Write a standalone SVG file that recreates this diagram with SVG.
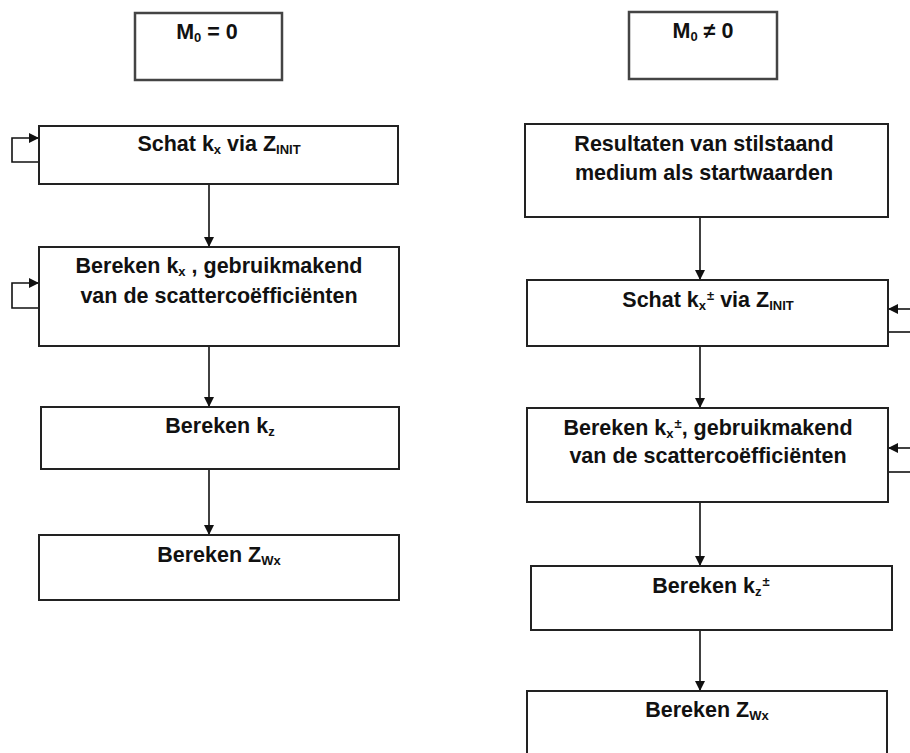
<svg xmlns="http://www.w3.org/2000/svg" width="910" height="753" viewBox="0 0 910 753">
<defs>
<marker id="ah" viewBox="0 0 10 10" refX="10" refY="5" markerWidth="10" markerHeight="10" markerUnits="userSpaceOnUse" orient="auto">
<path d="M0,0 L10,5 L0,10 z" fill="#111"/>
</marker>
<style>
.box{fill:#fff;stroke:#222;stroke-width:2}
.top{fill:#fff;stroke:#444;stroke-width:2.5}
.t{font-family:"Liberation Sans",Arial,sans-serif;font-weight:bold;font-size:21.5px;fill:#111;text-anchor:middle}
.s{font-size:13px}
.c{fill:none;stroke:#111;stroke-width:1.6}
</style>
</defs>
<rect width="910" height="753" fill="#fff"/>
<g id="connectors">
<line class="c" x1="209" y1="184" x2="209" y2="247" marker-end="url(#ah)"/>
<line class="c" x1="209" y1="346" x2="209" y2="407" marker-end="url(#ah)"/>
<line class="c" x1="209" y1="469" x2="209" y2="535" marker-end="url(#ah)"/>
<polyline class="c" points="39,162 12,162 12,138 39,138" marker-end="url(#ah)"/>
<polyline class="c" points="39,308 12,308 12,283 39,283" marker-end="url(#ah)"/>
<line class="c" x1="700" y1="217" x2="700" y2="280" marker-end="url(#ah)"/>
<line class="c" x1="700" y1="346" x2="700" y2="408" marker-end="url(#ah)"/>
<line class="c" x1="700" y1="502" x2="700" y2="566" marker-end="url(#ah)"/>
<line class="c" x1="700" y1="630" x2="700" y2="691" marker-end="url(#ah)"/>
<line class="c" x1="912" y1="309" x2="888" y2="309" marker-end="url(#ah)"/>
<line class="c" x1="888" y1="332" x2="912" y2="332"/>
<line class="c" x1="912" y1="448" x2="888" y2="448" marker-end="url(#ah)"/>
<line class="c" x1="888" y1="472" x2="912" y2="472"/>
</g>
<g id="m0-zero">
<rect class="top" x="135" y="13" width="147" height="67"/>
<text class="t" x="207" y="39">M<tspan class="s" dy="3">0</tspan><tspan dy="-3"> = 0</tspan></text>
</g>
<g id="m0-nonzero">
<rect class="top" x="629" y="12" width="148" height="67"/>
<text class="t" x="703" y="38">M<tspan class="s" dy="3">0</tspan><tspan dy="-3"> ≠ 0</tspan></text>
</g>
<g id="l1">
<rect class="box" x="39" y="126" width="359" height="58"/>
<text class="t" x="219" y="151">Schat k<tspan class="s" dy="3">x</tspan><tspan dy="-3"> via Z</tspan><tspan class="s" dy="3">INIT</tspan></text>
</g>
<g id="l2">
<rect class="box" x="39" y="247" width="360" height="99"/>
<text class="t" x="219" y="273">Bereken k<tspan class="s" dy="3">x</tspan><tspan dy="-3"> , gebruikmakend</tspan></text>
<text class="t" x="219" y="303">van de scattercoëfficiënten</text>
</g>
<g id="l3">
<rect class="box" x="41" y="407" width="358" height="62"/>
<text class="t" x="220" y="433">Bereken k<tspan class="s" dy="3">z</tspan></text>
</g>
<g id="l4">
<rect class="box" x="39" y="535" width="360" height="65"/>
<text class="t" x="219" y="562">Bereken Z<tspan class="s" dy="3">Wx</tspan></text>
</g>
<g id="r1">
<rect class="box" x="525" y="124" width="363" height="93"/>
<text class="t" x="704" y="151">Resultaten van stilstaand</text>
<text class="t" x="704" y="180">medium als startwaarden</text>
</g>
<g id="r2">
<rect class="box" x="527" y="280" width="361" height="66"/>
<text class="t" x="708" y="307">Schat k<tspan class="s" dy="3">x</tspan><tspan class="s" dx="1" dy="-10">±</tspan><tspan dy="7"> via Z</tspan><tspan class="s" dy="3">INIT</tspan></text>
</g>
<g id="r3">
<rect class="box" x="527" y="408" width="361" height="94"/>
<text class="t" x="708" y="435">Bereken k<tspan class="s" dy="3">x</tspan><tspan class="s" dx="1" dy="-10">±</tspan><tspan dy="7">, gebruikmakend</tspan></text>
<text class="t" x="708" y="463">van de scattercoëfficiënten</text>
</g>
<g id="r4">
<rect class="box" x="531" y="566" width="361" height="64"/>
<text class="t" x="711" y="593">Bereken k<tspan class="s" dy="3">z</tspan><tspan class="s" dx="1" dy="-10">±</tspan></text>
</g>
<g id="r5">
<rect class="box" x="527" y="691" width="360" height="80"/>
<text class="t" x="707" y="717">Bereken Z<tspan class="s" dy="3">Wx</tspan></text>
</g>
</svg>
